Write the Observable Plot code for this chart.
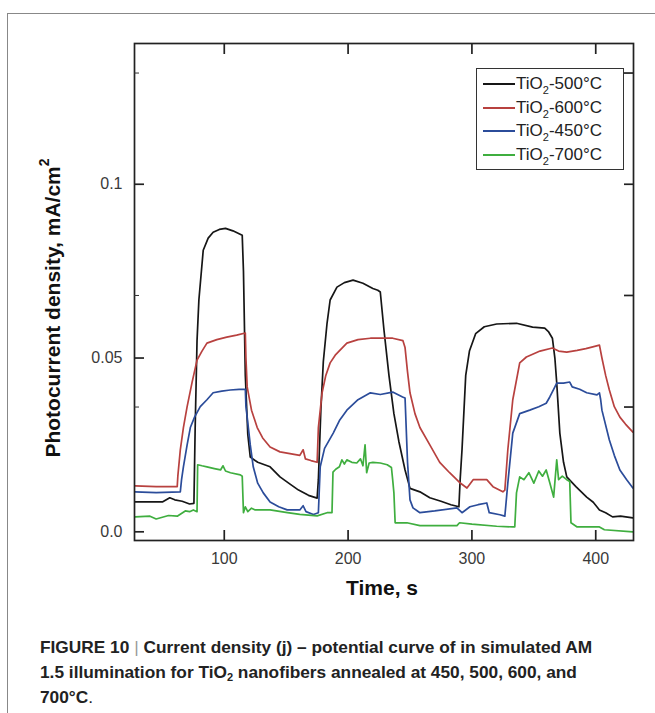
<!DOCTYPE html>
<html><head><meta charset="utf-8">
<script src="https://cdn.jsdelivr.net/npm/d3@7"></script>
<script src="https://cdn.jsdelivr.net/npm/@observablehq/plot@0.6"></script>
<style>
body{margin:0;background:#fff;font-family:"Liberation Sans",Arial,sans-serif;}
#wrap{position:relative;width:655px;height:713px;overflow:hidden;}
#border{position:absolute;left:7px;top:13px;width:700px;height:720px;border-left:1.5px solid #888;border-top:1.5px solid #888;}
#chart{position:absolute;left:0;top:0;}
#ytitle{position:absolute;left:52px;top:308px;transform:translate(-50%,-50%) rotate(-90deg);white-space:nowrap;font-weight:bold;font-size:21px;color:#111;}
#ytitle sup{font-size:14px;position:relative;top:-3px}
#xtitle{position:absolute;left:382px;top:588px;transform:translate(-50%,-50%);font-weight:bold;font-size:21px;color:#111;}
#legend{position:absolute;left:476px;top:68px;width:148px;height:102px;border:1.5px solid #333;box-sizing:border-box;background:#fff;}
.row{position:absolute;left:6px;height:20px;display:flex;align-items:center;font-size:17px;color:#222;white-space:nowrap;}
.row .sw{width:32px;height:0;border-top:2px solid;margin-right:1px;}
.row sub{font-size:11px;vertical-align:-5px;line-height:0}
#caption{position:absolute;left:40px;top:635px;font-size:17.3px;line-height:25px;font-weight:bold;color:#222;white-space:nowrap;}
#caption .sep{font-weight:normal;color:#999;}
#caption sub{font-size:11px;vertical-align:-3px;line-height:0}
</style></head>
<body>
<div id="wrap">
<div id="border"></div>
<div id="chart"></div>
<div id="ytitle">Photocurrent density, mA/cm<sup>2</sup></div>
<div id="xtitle">Time, s</div>
<div id="legend"></div>
<div id="caption">FIGURE 10 <span class="sep">|</span> Current density (j) – potential curve of in simulated AM<br>1.5 illumination for TiO<sub>2</sub> nanofibers annealed at 450, 500, 600, and<br>700°C<span style="font-weight:normal">.</span></div>
</div>
<script>
// ---- data (time in s, photocurrent density in mA/cm2) ----
const t500 = [28,50,56,60,66,72,75.5,76.5,78,79.5,83,87,91,96,101,107,114.5,115.5,117,119,121,127,137,145,152,160,168,175,176,178,180,183,185.5,191,197,204,212,220,224,226,229,233,237,241,246,250,258,266,275,283,289.5,290.5,292,295,298,303,310,320,336,349,358.8,362,365,367,368.5,371,374,376.6,384,392.7,398,403,408,413.6,420,430];
const j500 = [0.0086,0.0086,0.0098,0.0092,0.0088,0.0080,0.0082,0.030,0.055,0.0667,0.081,0.0845,0.0862,0.0870,0.0873,0.0866,0.0853,0.075,0.045,0.028,0.0215,0.0200,0.0187,0.0158,0.014,0.012,0.0105,0.0097,0.015,0.035,0.049,0.060,0.0667,0.0704,0.0717,0.0724,0.0715,0.0700,0.0695,0.0690,0.058,0.045,0.034,0.026,0.0178,0.0125,0.0115,0.0098,0.0088,0.0078,0.0072,0.015,0.0236,0.045,0.052,0.057,0.059,0.0598,0.0600,0.0589,0.0586,0.0575,0.0557,0.050,0.0428,0.0284,0.020,0.0158,0.013,0.010,0.0085,0.0063,0.0055,0.0043,0.0045,0.0040];

const t600 = [28,45,62,62.5,64.5,67,70,74,78,82,86,94,102,110,117,117.5,118.5,122,126.6,131,137,145,153,161,163.7,165.5,170,175,176,179,182,185.5,190,199,208,218,228,236,244.3,246,248,250,254,258,266,274,282,290,296,301,312,317,325,326.6,329,333,338.6,344,355,365,370,376.6,385,392,397.6,403,405,408,411,415,419.5,424,430];
const j600 = [0.0132,0.0130,0.0130,0.016,0.0236,0.030,0.036,0.043,0.0494,0.052,0.0543,0.0553,0.0560,0.0566,0.0572,0.050,0.0417,0.035,0.030,0.027,0.0244,0.023,0.0225,0.022,0.0236,0.021,0.0205,0.0200,0.030,0.040,0.045,0.0486,0.051,0.0543,0.0553,0.0557,0.0557,0.0557,0.0550,0.0530,0.046,0.040,0.034,0.030,0.025,0.0200,0.017,0.0142,0.0126,0.015,0.015,0.013,0.0115,0.012,0.0236,0.038,0.0486,0.0503,0.0520,0.0529,0.0520,0.0517,0.0522,0.0527,0.0532,0.0537,0.050,0.045,0.0408,0.036,0.033,0.031,0.0287];

const t450 = [28,45,64.5,65.5,67,70,72.6,76,80.6,86,91,98,104.8,112,117,117.5,118.5,121,123.4,127,131.5,137,144,150.8,161,163.7,166,172,176,177.5,181,188,193,199,208,218,226,236,244,246,248,250,252.4,258,270,287.9,292,298.4,305,312,314,322.6,326.6,329,333,338.6,346.7,354,360,362.9,366,368.5,374,379,381,387,392.7,401,403,404,405,411,415,419.5,425,430];
const j450 = [0.0115,0.0113,0.0115,0.015,0.0187,0.025,0.030,0.033,0.036,0.038,0.040,0.0405,0.0408,0.041,0.041,0.036,0.033,0.025,0.0187,0.014,0.0112,0.0086,0.0072,0.0063,0.0063,0.0075,0.0058,0.0050,0.0055,0.0187,0.024,0.0284,0.032,0.035,0.038,0.040,0.0395,0.0402,0.0388,0.0385,0.020,0.0092,0.0069,0.0055,0.0060,0.0069,0.0055,0.0072,0.0078,0.0083,0.0055,0.0049,0.0045,0.014,0.0284,0.034,0.035,0.036,0.037,0.0388,0.041,0.0428,0.0428,0.0431,0.0417,0.041,0.040,0.0394,0.040,0.038,0.035,0.0264,0.022,0.0178,0.015,0.0126];

const t700 = [28,40,45,55,62,68.5,72,75,78,78.5,82,86,92,97,99,101,105,113,114.5,115.5,117,119,122,125,137,151,161,175,183,187,187.8,190,193,195,197,199,203,207,210,212,213.7,215,217,220,226,231.6,235,236,237,238,247.5,258,270,287.9,290,300,320,333,334.6,336,338.6,342,346,350,354,357,360,363,366,368.5,370,373,376.6,379,380,385,403,407,430];
const j700 = [0.0043,0.0045,0.0037,0.0047,0.0045,0.0060,0.0058,0.0063,0.0058,0.0193,0.0190,0.0187,0.0182,0.0178,0.0190,0.0175,0.0170,0.0164,0.0160,0.0055,0.0072,0.0058,0.0068,0.0063,0.0063,0.0055,0.0050,0.0046,0.0055,0.0055,0.0172,0.0180,0.0187,0.0207,0.0195,0.0207,0.0200,0.0198,0.0210,0.0190,0.0250,0.0170,0.0198,0.0200,0.0198,0.0193,0.0185,0.015,0.0112,0.0026,0.0026,0.0018,0.0018,0.0018,0.0026,0.0022,0.0016,0.0014,0.0014,0.0112,0.0158,0.0150,0.0170,0.0140,0.0175,0.0160,0.0178,0.0140,0.0100,0.0207,0.0150,0.0160,0.0150,0.0145,0.0026,0.0014,0.0014,0.0006,0.0000];

const seriesNames = ["TiO2-500°C","TiO2-600°C","TiO2-450°C","TiO2-700°C"];
const seriesColors = ["#161616","#b8413f","#2b4c9a","#3fae3f"];
const xTicks = [100,200,300,400];
const yTicks = [0,0.05,0.1];
const yTickLabels = ["0.0","0.05","0.1"];
const yMinorTicks = [0.0359,0.068,0.132];
const xDomain = [27.5,430.5];
const yDomain = [-0.0025,0.1405];

// ---- build table ----
const cols = [[t500,j500],[t600,j600],[t450,j450],[t700,j700]];
const data = [];
cols.forEach(([t,j],i)=>t.forEach((tv,k)=>data.push({s:seriesNames[i],t:tv,j:j[k]})));

const lab = new Map(yTicks.map((v,i)=>[v,yTickLabels[i]]));
const chart = Plot.plot({
  width:655, height:615,
  marginLeft:134, marginRight:22, marginTop:43, marginBottom:75,
  style:{fontFamily:"'Liberation Sans', Arial, sans-serif", background:"transparent"},
  x:{domain:xDomain, label:null},
  y:{domain:yDomain, label:null},
  color:{domain:seriesNames, range:seriesColors},
  marks:[
    Plot.line(data,{x:"t",y:"j",z:"s",stroke:"s",strokeWidth:1.7}),
    Plot.frame({stroke:"#222",strokeWidth:1.7}),
    Plot.axisX(xTicks,{anchor:"bottom",tickSize:-10,tickFormat:()=>"",stroke:"#222",strokeWidth:1.7,label:null}),
    Plot.axisX(xTicks,{anchor:"bottom",tickSize:0,tickPadding:12,fontSize:16,fill:"#3a3a3a",label:null}),
    Plot.axisX(xTicks,{anchor:"top",tickSize:-10,tickFormat:()=>"",stroke:"#222",strokeWidth:1.7,label:null}),
    Plot.axisY(yTicks,{anchor:"left",tickSize:-10,tickFormat:()=>"",stroke:"#222",strokeWidth:1.7,label:null}),
    Plot.axisY(yMinorTicks,{anchor:"left",tickSize:-5,tickFormat:()=>"",stroke:"#333",strokeWidth:1,label:null}),
    Plot.axisY(yTicks,{anchor:"left",tickSize:0,tickPadding:12,fontSize:16,fill:"#3a3a3a",tickFormat:v=>lab.get(v),label:null}),
    Plot.axisY(yMinorTicks.concat([0.1]),{anchor:"right",tickSize:-10,tickFormat:()=>"",stroke:"#222",strokeWidth:1.7,label:null})
  ]
});
document.getElementById("chart").appendChild(chart);

// legend
const lg = document.getElementById("legend");
seriesNames.forEach((n,i)=>{
  const r = document.createElement("div");
  r.className="row";
  r.style.top = (5+i*23.5)+"px";
  const sw = document.createElement("span");
  sw.className="sw"; sw.style.borderColor = seriesColors[i];
  r.appendChild(sw);
  const tx = document.createElement("span");
  const m = n.match(/^TiO2(.*)$/);
  tx.innerHTML = "TiO<sub>2</sub>"+m[1];
  r.appendChild(tx);
  lg.appendChild(r);
});
</script>
</body></html>
